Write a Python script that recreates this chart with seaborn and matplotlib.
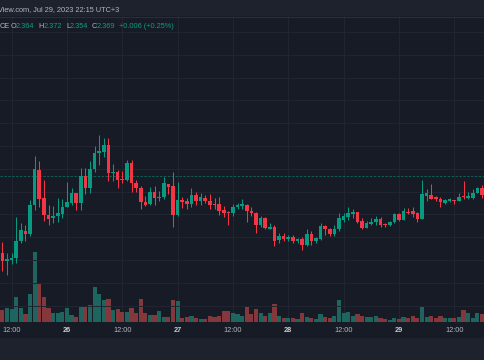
import numpy as np
import pandas as pd
import seaborn as sns
import matplotlib.pyplot as plt
from matplotlib.patches import Rectangle
from matplotlib.lines import Line2D

# 1小时K线，从 2023-07-25 10:00 开始
start = "2023-07-25 10:00"

opens = [2.292, 2.284, 2.2855, 2.2865, 2.3035, 2.3145, 2.311, 2.340, 2.375, 2.3465,
         2.3305, 2.327, 2.3295, 2.331, 2.3385, 2.342, 2.352, 2.342, 2.3685, 2.357,
         2.376, 2.392, 2.393, 2.400, 2.3715, 2.3725, 2.3655, 2.3645, 2.3815, 2.362,
         2.3575, 2.343, 2.341, 2.353, 2.347, 2.3475, 2.361, 2.3585, 2.3305, 2.345,
         2.3435, 2.341, 2.350, 2.3445, 2.347, 2.3435, 2.3405, 2.3405, 2.335, 2.333,
         2.332, 2.338, 2.339, 2.340, 2.3345, 2.3325, 2.3205, 2.327, 2.3165, 2.3185,
         2.305, 2.3085, 2.306, 2.3075, 2.3035, 2.3055, 2.2995, 2.3105, 2.3045, 2.306,
         2.3185, 2.3155, 2.3105, 2.3155, 2.3255, 2.328, 2.331, 2.333, 2.3235, 2.3175,
         2.3215, 2.323, 2.326, 2.321, 2.3195, 2.323, 2.331, 2.3255, 2.3335, 2.334,
         2.3315, 2.3265, 2.3495, 2.3505, 2.3475, 2.3465, 2.3425, 2.344, 2.3455, 2.3445,
         2.3485, 2.347, 2.347, 2.3515, 2.357]

highs = [2.303, 2.292, 2.292, 2.3285, 2.322, 2.3195, 2.345, 2.389, 2.3835, 2.365,
         2.340, 2.339, 2.347, 2.346, 2.363, 2.357, 2.3525, 2.3765, 2.377, 2.384,
         2.399, 2.410, 2.407, 2.407, 2.3805, 2.375, 2.374, 2.3845, 2.3845, 2.365,
         2.359, 2.349, 2.358, 2.359, 2.3545, 2.3675, 2.3615, 2.3725, 2.363, 2.348,
         2.347, 2.357, 2.353, 2.352, 2.350, 2.351, 2.347, 2.348, 2.339, 2.334,
         2.341, 2.342, 2.346, 2.341, 2.3385, 2.3335, 2.329, 2.328, 2.322, 2.3195,
         2.3115, 2.3115, 2.310, 2.310, 2.307, 2.3075, 2.3155, 2.3145, 2.3085, 2.322,
         2.3205, 2.317, 2.3205, 2.332, 2.332, 2.338, 2.336, 2.3335, 2.327, 2.3245,
         2.327, 2.3295, 2.3285, 2.322, 2.3245, 2.332, 2.332, 2.3375, 2.337, 2.3385,
         2.3335, 2.3645, 2.3555, 2.361, 2.3495, 2.3485, 2.3465, 2.347, 2.3455, 2.352,
         2.3635, 2.3535, 2.3555, 2.3585, 2.3595]

lows = [2.274, 2.270, 2.281, 2.282, 2.302, 2.3045, 2.309, 2.335, 2.338, 2.3245,
        2.320, 2.322, 2.323, 2.327, 2.338, 2.340, 2.335, 2.335, 2.351, 2.352,
        2.373, 2.380, 2.388, 2.3635, 2.3635, 2.357, 2.362, 2.364, 2.353, 2.3535,
        2.336, 2.339, 2.3395, 2.340, 2.3445, 2.346, 2.351, 2.318, 2.329, 2.337,
        2.336, 2.338, 2.340, 2.340, 2.342, 2.3355, 2.3355, 2.330, 2.3275, 2.320,
        2.3295, 2.336, 2.3365, 2.323, 2.329, 2.312, 2.318, 2.3155, 2.3155, 2.2985,
        2.302, 2.3035, 2.3035, 2.302, 2.302, 2.2945, 2.2985, 2.3005, 2.302, 2.3055,
        2.310, 2.3095, 2.3095, 2.314, 2.323, 2.3255, 2.327, 2.322, 2.3155, 2.317,
        2.3205, 2.3205, 2.3185, 2.3185, 2.319, 2.322, 2.3245, 2.325, 2.331, 2.3275,
        2.323, 2.326, 2.3445, 2.346, 2.3435, 2.3385, 2.341, 2.343, 2.341, 2.3435,
        2.3465, 2.346, 2.3465, 2.3515, 2.347]

closes = [2.284, 2.2855, 2.287, 2.3035, 2.315, 2.311, 2.340, 2.3755, 2.3465, 2.330,
          2.3265, 2.3295, 2.332, 2.3385, 2.343, 2.352, 2.342, 2.3685, 2.357, 2.376,
          2.392, 2.3935, 2.400, 2.3715, 2.3725, 2.3655, 2.3645, 2.3815, 2.362, 2.357,
          2.343, 2.3405, 2.353, 2.347, 2.348, 2.362, 2.3585, 2.3305, 2.345, 2.343,
          2.341, 2.350, 2.3445, 2.3475, 2.3435, 2.3405, 2.340, 2.3345, 2.332, 2.332,
          2.338, 2.3395, 2.3405, 2.3345, 2.332, 2.3205, 2.327, 2.3175, 2.318, 2.3045,
          2.3085, 2.306, 2.3075, 2.3035, 2.3055, 2.2995, 2.311, 2.3045, 2.3065, 2.319,
          2.3155, 2.3105, 2.316, 2.3265, 2.3285, 2.332, 2.333, 2.323, 2.3175, 2.3225,
          2.323, 2.326, 2.3205, 2.3195, 2.323, 2.331, 2.3255, 2.3345, 2.3325, 2.331,
          2.326, 2.3505, 2.352, 2.3465, 2.346, 2.343, 2.3445, 2.346, 2.3445, 2.3485,
          2.3475, 2.3485, 2.352, 2.357, 2.3505]

volumes = [120, 140, 130, 255, 140, 77, 277, 700, 377, 250,
           144, 94, 94, 104, 137, 70, 55, 155, 155, 170,
           355, 280, 220, 227, 117, 127, 104, 97, 137, 94,
           227, 87, 67, 67, 110, 54, 54, 220, 210, 44,
           47, 64, 44, 30, 34, 64, 50, 64, 110, 110,
           94, 84, 57, 155, 77, 130, 87, 64, 87, 177,
           64, 44, 44, 37, 30, 87, 54, 44, 30, 80,
           54, 44, 64, 220, 87, 97, 64, 80, 64, 47,
           47, 57, 37, 30, 20, 44, 30, 54, 44, 64,
           37, 154, 47, 64, 37, 60, 37, 37, 44, 54,
           117, 87, 44, 94, 84]

last_price = 2.369
header_title = "View.com, Jul 29, 2023 22:15 UTC+3"
legend_parts = [("CE", "lab"), ("O", "lab"), ("2.364", "val"), ("H", "lab"), ("2.372", "val"),
                ("L", "lab"), ("2.354", "val"), ("C", "lab"), ("2.369", "val"),
                ("+0.006 (+0.25%)", "val")]
legend_x = [-0.5, 11, 16, 38, 43.5, 66, 70, 92, 97, 119]

# 颜色
BG = "#171b26"
HEAD = "#1e222d"
GRID = "#222633"
UP = "#089981"
DOWN = "#f23645"
VOL_UP = "#1e6560"
VOL_DOWN = "#85383c"
TXT = "#b2b5be"

sns.set_theme(style="dark")
plt.rcParams["font.family"] = ["Liberation Sans", "DejaVu Sans"]

n = len(closes)
times = pd.date_range(start, periods=n, freq="h")
df = pd.DataFrame({"pos": np.arange(n), "open": opens, "high": highs,
                   "low": lows, "close": closes, "volume": volumes})
df["dir"] = np.where(df["close"] >= df["open"], "up", "down")

W, H = 485, 360
fig = plt.figure(figsize=(W / 100, H / 100), dpi=100, facecolor=BG)

# 顶部标题栏和底部栏
fig.add_artist(Rectangle((0, 1 - 16 / H), 1, 16 / H, transform=fig.transFigure,
                         facecolor=HEAD, edgecolor="none", zorder=-1))
fig.add_artist(Line2D([0, 1], [1 - 16.5 / H] * 2, transform=fig.transFigure,
                      color="#2a2e39", lw=0.8))
fig.add_artist(Rectangle((0, 0), 1, 22 / H, transform=fig.transFigure,
                         facecolor=HEAD, edgecolor="none", zorder=-1))

# 成交量
ax_v = fig.add_axes([0, 38 / H, 1, 306 / H])
ax_v.set_facecolor(BG)
sns.barplot(data=df, x="pos", y="volume", hue="dir",
            palette={"up": VOL_UP, "down": VOL_DOWN}, native_scale=True,
            dodge=False, width=0.9, errorbar=None, legend=False,
            saturation=1, linewidth=0, ax=ax_v)
ax_v.set_ylim(0, 3060)
ax_v.set_yticks([])
ax_v.set_ylabel("")
ax_v.set_xlabel("")

tick_pos = [i for i, t in enumerate(times) if t.hour in (0, 12)]
tick_lab = [t.strftime("%H:%M") if t.hour == 12 else str(t.day) for t in times[tick_pos]]
ax_v.set_xticks(tick_pos)
ax_v.set_xticklabels(tick_lab)
for lab, t in zip(ax_v.get_xticklabels(), times[tick_pos]):
    lab.set_fontsize(5.3)
    lab.set_color("#c9ccd4" if t.hour == 0 else TXT)
    if t.hour == 0:
        lab.set_fontweight("bold")
ax_v.tick_params(axis="x", length=0, pad=3.5)
ax_v.xaxis.grid(True, color=GRID, lw=0.7)
ax_v.set_axisbelow(True)
for s in ax_v.spines.values():
    s.set_visible(False)

# K线
ax_p = ax_v.twinx()
ax_p.patch.set_visible(False)
col = np.where(df["dir"] == "up", UP, DOWN)
ax_p.vlines(df["pos"], df["low"], df["high"], colors=col, lw=0.75, zorder=3)
body_lo = np.minimum(df["open"], df["close"])
body_h = np.maximum(np.abs(df["close"] - df["open"]), 0.0009)
ax_p.bar(df["pos"], body_h, bottom=body_lo, width=0.78, color=col, linewidth=0, zorder=4)
ax_p.axhline(last_price, color=UP, lw=0.7, alpha=0.55, ls=(0, (2.5, 1.5)), zorder=2)
ax_p.set_ylim(2.223, 2.529)
ax_p.set_yticks(np.arange(2.513, 2.22, -0.0228))
ax_p.yaxis.grid(True, color=GRID, lw=0.7)
ax_p.tick_params(axis="y", right=False, labelright=False, length=0)
for s in ax_p.spines.values():
    s.set_visible(False)

ax_v.set_xlim(-0.52, 104.66)

# 标题文字
fig.text(-2 / W, 1 - 9.5 / H, header_title, fontsize=5.3, color=TXT, va="center", ha="left")
for (s, kind), x in zip(legend_parts, legend_x):
    fig.text(x / W, 1 - 26 / H, s, fontsize=5.3, va="center", ha="left",
             color=TXT if kind == "lab" else "#0e9c84")

fig.savefig("out.png", dpi=100, facecolor=BG)
